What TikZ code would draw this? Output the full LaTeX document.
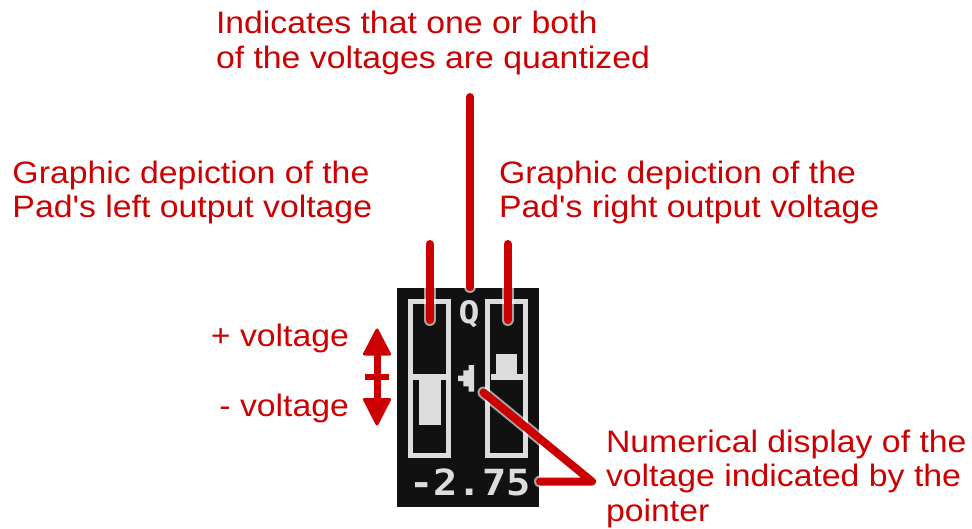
\documentclass[tikz,border=0pt]{standalone}
\usepackage{fontspec}
\setmainfont{Liberation Sans}[FakeStretch=1.09]
\newfontfamily\labelfont{Liberation Sans}[FakeStretch=1.09]
\newfontfamily\lcdfont{DejaVu Sans Mono}[FakeStretch=1.12]
\definecolor{callred}{HTML}{CC0000}
\definecolor{lcdbg}{HTML}{111111}
\definecolor{lcdfg}{HTML}{DDDDDD}
\begin{document}
\begin{tikzpicture}[x=1pt,y=-1pt,
  lbl/.style={text=callred, font=\labelfont\fontsize{31}{34.5}\selectfont, inner sep=0pt, outer sep=0pt, align=left},
  lcdtext/.style={text=lcdfg, inner sep=0pt, outer sep=0pt},
  halo/.style={line width=12pt, white, opacity=0.62, line cap=round, line join=round},
  callout/.style={line width=8pt, callred, line cap=round, line join=round},
  barline/.style={draw=lcdfg, line width=5.2pt},
  barfill/.style={fill=lcdfg}]
\useasboundingbox (0,0) rectangle (972,529);

% labels (base anchor = baseline of the last line)
\node[lbl, anchor=base west] (qtext) at (216,68.3) {Indicates that one or both\\of the voltages are quantized};
\node[lbl, anchor=base west] (ltext) at (12.5,218) {Graphic depiction of the\\Pad's left output voltage};
\node[lbl, anchor=base west] (rtext) at (499,218) {Graphic depiction of the\\Pad's right output voltage};
\node[lbl, anchor=base west] (ntext) at (606,521) {Numerical display of the\\voltage indicated by the\\pointer};
\node[lbl, anchor=base east] (plus) at (349,347) {+ voltage};
\node[lbl, anchor=base east] (minus) at (349,416.7) {- voltage};

% display
\fill[lcdbg] (397,288) rectangle (539,507);
\draw[barline] (410.6,301.7) rectangle (448.5,455.8);
\draw[barline] (487.8,301.7) rectangle (525.8,455.8);
\fill[lcdfg] (413,374.3) rectangle (446,380);
\fill[lcdfg] (490.5,374.3) rectangle (523.2,380);
\fill[barfill] (419.3,380) rectangle (440.5,425);
\fill[barfill] (496,354) rectangle (516.7,374.3);
% pointer
\fill[lcdfg] (474,365) -- (468.7,365) -- (468.7,370.3) -- (463.3,370.3) -- (463.3,375.6)
  -- (458,375.6) -- (458,381) -- (463.3,381) -- (463.3,386.3) -- (468.7,386.3)
  -- (468.7,391.7) -- (474,391.7) -- cycle;
\node[lcdtext, anchor=base, font=\lcdfont\bfseries\fontsize{31}{31}\selectfont] (qmark) at (469,324) {Q};
\node[lcdtext, anchor=base, font=\lcdfont\bfseries\fontsize{36}{36}\selectfont] (value) at (470,495) {-2.75};

% callout anchor points
\coordinate (qa) at (470,97);   \coordinate (qb) at (470,287);
\coordinate (la) at (429.5,244); \coordinate (lb) at (429.5,320);
\coordinate (ra) at (507.5,244); \coordinate (rb) at (507.5,320);
\coordinate (pa) at (483.5,392.5); \coordinate (pc) at (592,481.5); \coordinate (pb) at (540,481.5);

\draw[halo] (qa) -- (qb);
\draw[halo] (la) -- (lb);
\draw[halo] (ra) -- (rb);
\draw[halo] (pa) -- (pc) -- (pb);
\draw[callout] (qa) -- (qb);
\draw[callout] (la) -- (lb);
\draw[callout] (ra) -- (rb);
\draw[callout] (pa) -- (pc) -- (pb);

% voltage direction arrow
\coordinate (vtop) at (377,330);
\coordinate (vbot) at (377,424);
\draw[callred, line width=7pt] (377,350) -- (377,403);
\filldraw[callred, line width=3pt, line join=round] (vtop) -- (389.5,354) -- (364.5,354) -- cycle;
\filldraw[callred, line width=3pt, line join=round] (vbot) -- (389.5,399.5) -- (364.5,399.5) -- cycle;
\draw[callred, line width=5.8pt] (365,377.2) -- (388.5,377.2);
\end{tikzpicture}
\end{document}
